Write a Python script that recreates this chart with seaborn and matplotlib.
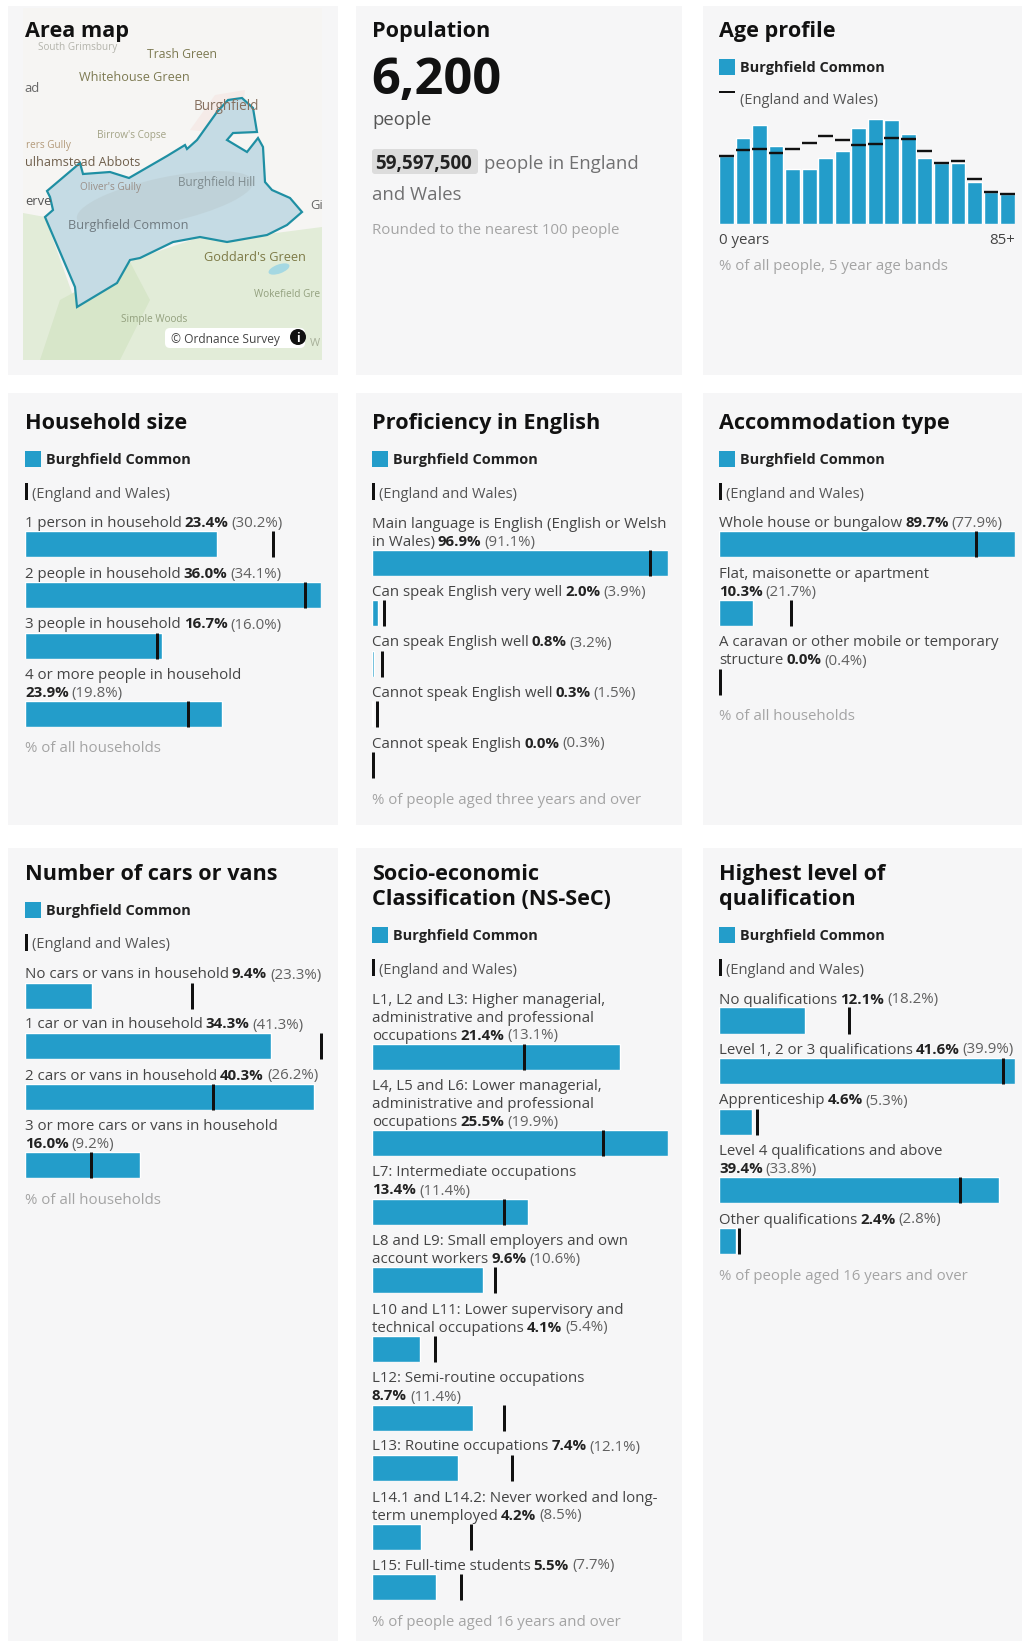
import matplotlib
matplotlib.use("Agg")
import matplotlib.pyplot as plt
from matplotlib.patches import Rectangle, Polygon, Ellipse, Circle, FancyBboxPatch
import seaborn as sns

W, H = 1022, 1641
BLUE = "#239dca"
PANEL = "#f6f6f7"
AREA = "Burghfield Common"
NATION = "(England and Wales)"

# Age profile, % of people in each 5 year band
age_bands = ["0-4", "5-9", "10-14", "15-19", "20-24", "25-29", "30-34", "35-39", "40-44",
             "45-49", "50-54", "55-59", "60-64", "65-69", "70-74", "75-79", "80-84", "85+"]
age_area = [5.4, 6.9, 7.9, 6.2, 4.4, 4.4, 5.3, 5.8, 7.7, 8.4, 8.3, 7.2, 5.3, 4.9, 4.9, 3.3, 2.5, 2.4]
age_nation = [5.4, 5.9, 6.0, 5.7, 6.0, 6.5, 7.0, 6.7, 6.3, 6.4, 6.9, 6.8, 5.8, 4.9, 5.0, 3.6, 2.5, 2.4]

household_labels = ["1 person in household", "2 people in household", "3 people in household",
                    "4 or more people in household\n"]
household_area = [23.4, 36.0, 16.7, 23.9]
household_nation = [30.2, 34.1, 16.0, 19.8]

english_labels = ["Main language is English (English or Welsh\nin Wales)", "Can speak English very well",
                  "Can speak English well", "Cannot speak English well", "Cannot speak English"]
english_area = [96.9, 2.0, 0.8, 0.3, 0.0]
english_nation = [91.1, 3.9, 3.2, 1.5, 0.3]

accommodation_labels = ["Whole house or bungalow", "Flat, maisonette or apartment\n",
                        "A caravan or other mobile or temporary\nstructure"]
accommodation_area = [89.7, 10.3, 0.0]
accommodation_nation = [77.9, 21.7, 0.4]

cars_labels = ["No cars or vans in household", "1 car or van in household", "2 cars or vans in household",
               "3 or more cars or vans in household\n"]
cars_area = [9.4, 34.3, 40.3, 16.0]
cars_nation = [23.3, 41.3, 26.2, 9.2]

nssec_labels = ["L1, L2 and L3: Higher managerial,\nadministrative and professional\noccupations",
                "L4, L5 and L6: Lower managerial,\nadministrative and professional\noccupations",
                "L7: Intermediate occupations\n",
                "L8 and L9: Small employers and own\naccount workers",
                "L10 and L11: Lower supervisory and\ntechnical occupations",
                "L12: Semi-routine occupations\n",
                "L13: Routine occupations",
                "L14.1 and L14.2: Never worked and long-\nterm unemployed",
                "L15: Full-time students"]
nssec_area = [21.4, 25.5, 13.4, 9.6, 4.1, 8.7, 7.4, 4.2, 5.5]
nssec_nation = [13.1, 19.9, 11.4, 10.6, 5.4, 11.4, 12.1, 8.5, 7.7]

qualification_labels = ["No qualifications", "Level 1, 2 or 3 qualifications", "Apprenticeship",
                        "Level 4 qualifications and above\n", "Other qualifications"]
qualification_area = [12.1, 41.6, 4.6, 39.4, 2.4]
qualification_nation = [18.2, 39.9, 5.3, 33.8, 2.8]

# Boundary of the area on the map, in page pixels
boundary_x = [47, 80, 83, 110, 129, 167, 185, 187, 197, 217, 228, 242, 253, 257, 233, 227, 247,
              258, 263, 265, 272, 290, 302, 287, 267, 227, 200, 173, 140, 130, 117, 77, 75, 45, 53, 50]
boundary_y = [191, 163, 174, 172, 178, 156, 145, 149, 140, 112, 100, 98, 108, 132, 133, 140, 152,
              138, 147, 182, 190, 198, 212, 225, 235, 242, 237, 242, 258, 260, 283, 307, 287, 217, 210, 197]

# Place names on the map: text, x, y, font size in px, colour, alignment
map_labels = [
    ("South Grimsbury", 78, 46, 10, "#b4b4ac", "center"),
    ("Trash Green", 182, 53, 12.3, "#7d7a52", "center"),
    ("Whitehouse Green", 134, 76, 12.6, "#7d7a52", "center"),
    ("ad", 24, 87, 13, "#666666", "left"),
    ("Burghfield", 226, 104, 13.5, "#86705f", "center"),
    ("Birrow's Copse", 132, 134, 10, "#a3a386", "center"),
    ("rers Gully", 48, 144, 10, "#b39a7a", "center"),
    ("ulhamstead Abbots", 25, 161, 12.6, "#6f5f4c", "left"),
    ("Oliver's Gully", 110, 186, 10, "#9a8f88", "center"),
    ("Burghfield Hill", 217, 181, 11.8, "#7e8b8e", "center"),
    ("erve", 25, 200, 13, "#555555", "left"),
    ("Burghfield Common", 128, 224, 12.8, "#6f7a80", "center"),
    ("Gi", 310, 204, 13, "#666666", "left"),
    ("Goddard's Green", 255, 256, 12.7, "#7d7a46", "center"),
    ("Wokefield Gre", 287, 293, 10, "#93a07e", "center"),
    ("Simple Woods", 154, 318, 10, "#93a07e", "center"),
    ("W", 315, 342, 11, "#a8b09a", "center"),
]

sns.set_theme(style="white")
plt.rcParams["font.family"] = ["Open Sans", "DejaVu Sans"]

fig = plt.figure(figsize=(W / 100, H / 100), dpi=100, facecolor="white")
page = fig.add_axes([0, 0, 1, 1])
page.set_xlim(0, W)
page.set_ylim(H, 0)
page.axis("off")
renderer = fig.canvas.get_renderer()


def pt(px):
    return px * 0.72


def write(x, y, s, px=15, color="#444444", weight="normal", ha="left", zorder=5):
    return page.text(x, y, s, fontsize=pt(px), color=color, fontweight=weight, ha=ha, va="center_baseline", zorder=zorder)


def write_run(x, y, pieces, px=15):
    # Lay out differently styled pieces of one line, one after another
    for s, color, weight in pieces:
        t = write(x, y, s, px, color, weight)
        x += t.get_window_extent(renderer).width + px * 0.2
    return x


# Card backgrounds
for x0, x1 in [(8, 338), (356, 682), (703, 1022)]:
    for y0, y1 in [(6, 375), (393, 825), (848, 1641)]:
        page.add_patch(Rectangle((x0, y0), x1 - x0, y1 - y0, facecolor=PANEL, edgecolor="none", zorder=0))

# Map base
page.add_patch(Rectangle((23, 8), 299, 352, facecolor="#f6f5f3", edgecolor="none", zorder=1))
page.add_patch(Polygon([(23, 213), (45, 217), (77, 307), (133, 260), (200, 237), (276, 233), (322, 227),
                        (322, 360), (23, 360)], facecolor="#e2ecd8", edgecolor="none", zorder=1))
page.add_patch(Polygon([(60, 300), (130, 262), (150, 300), (120, 360), (40, 360)], facecolor="#d7e6c9",
                       edgecolor="none", zorder=1))
page.add_patch(Polygon([(190, 130), (215, 95), (245, 90), (240, 135)], facecolor="#f5ebe8", edgecolor="none", zorder=1))
page.add_patch(Ellipse((279, 269), 22, 9, angle=-20, facecolor="#a5d8e2", edgecolor="none", zorder=1))
page.add_patch(Polygon(list(zip(boundary_x, boundary_y)), closed=True, facecolor="#c5dbe4",
                       edgecolor="#1f8fa3", linewidth=pt(2.2), zorder=2))
page.add_patch(Ellipse((165, 200), 180, 45, angle=-12, facecolor="#bccdd2", edgecolor="none", alpha=0.6, zorder=2))
for s, x, y, px, c, ha in map_labels:
    write(x, y, s, px, c, ha=ha, zorder=3)
page.add_patch(FancyBboxPatch((165, 328), 140, 20, boxstyle="round,pad=0,rounding_size=5", facecolor="white",
                              edgecolor="none", zorder=3))
write(171, 337.5, "© Ordnance Survey", 12, "#444444", zorder=4)
page.add_patch(Circle((298, 337), 8, facecolor="#111111", edgecolor="none", zorder=4))
write(298, 337, "i", 12, "white", "bold", ha="center", zorder=5)
write(25, 29, "Area map", 21.7, "#111111", "bold")

# Population card
write(372, 29, "Population", 21.7, "#111111", "bold")
write(371, 75, "6,200", 50.5, "#111111", "bold")
write(372, 118, "people", 18.5, "#555555")
page.add_patch(FancyBboxPatch((372, 149), 106, 25, boxstyle="round,pad=0,rounding_size=3", facecolor="#dcdcdc",
                              edgecolor="none", zorder=1))
write(375, 162, "59,597,500", 18.8, "#222222", "bold")
write(484, 162, "people in England", 18.5, "#707071")
write(372, 193, "and Wales", 18.5, "#707071")
write(372, 228, "Rounded to the nearest 100 people", 15, "#a4a4a4")


def card_header(x, title_lines, legend_y, vertical=True):
    y = legend_y - 37 - 25 * (len(title_lines) - 1)
    for line in title_lines:
        write(x, y, line, 21.7, "#111111", "bold")
        y += 25
    page.add_patch(Rectangle((x, legend_y - 7.5), 16, 16, facecolor=BLUE, edgecolor="none", zorder=3))
    write(x + 21, legend_y + 0.5, AREA, 14.5, "#222222", "bold")
    if vertical:
        page.add_patch(Rectangle((x, legend_y + 25), 3, 17, facecolor="#111111", edgecolor="none", zorder=3))
        write(x + 7, legend_y + 34, NATION, 14.6, "#555555")
    else:
        page.add_patch(Rectangle((x, legend_y + 25), 16, 2, facecolor="#111111", edgecolor="none", zorder=3))
        write(x + 21, legend_y + 33, NATION, 14.6, "#555555")


def bar_card(x, labels, area, nation, tops, footer, footer_y):
    scale_max = max(max(area), max(nation))
    for label, a, n, top in zip(labels, area, nation, tops):
        lines = label.split("\n")
        y = top - 9.5 - 18 * (len(lines) - 1)
        for line in lines[:-1]:
            write(x, y, line, 15)
            y += 18
        pieces = [(f"{a:.1f}%", "#222222", "bold"), (f"({n:.1f}%)", "#606060", "normal")]
        if lines[-1]:
            pieces.insert(0, (lines[-1], "#444444", "normal"))
        write_run(x, y, pieces, 15)

        ax = fig.add_axes([x / W, 1 - (top + 26) / H, 296 / W, 26 / H])
        sns.barplot(x=[a], y=[label], orient="h", color=BLUE, saturation=1, width=1, ax=ax)
        ax.vlines(n, -0.5, 0.5, color="#111111", linewidth=pt(3), clip_on=False, zorder=5)
        ax.set_xlim(0, scale_max)
        ax.set_ylim(0.5, -0.5)
        ax.axis("off")
    write(x, footer_y, footer, 15, "#a4a4a4")


# Age profile card
card_header(719, ["Age profile"], 66, vertical=False)
age_ax = fig.add_axes([719 / W, 1 - 223.5 / H, 296 / W, 105 / H])
sns.barplot(x=age_bands, y=age_area, color=BLUE, saturation=1, width=0.9, ax=age_ax)
for i, v in enumerate(age_nation):
    age_ax.hlines(v, i - 0.45, i + 0.45, color="#111111", linewidth=pt(2.4), zorder=5)
age_ax.set_xlim(-0.45, 17.45)
age_ax.set_ylim(0, 8.44)
age_ax.axis("off")
write(719, 238, "0 years", 15, "#444444")
write(1015, 238, "85+", 15, "#444444", ha="right")
write(719, 265, "% of all people, 5 year age bands", 15, "#a4a4a4")

# Middle row
card_header(25, ["Household size"], 458)
bar_card(25, household_labels, household_area, household_nation, [531, 582, 632.5, 701],
         "% of all households", 747)
card_header(372, ["Proficiency in English"], 458)
bar_card(372, english_labels, english_area, english_nation, [550, 600, 650.5, 701, 751.5],
         "% of people aged three years and over", 798)
card_header(719, ["Accommodation type"], 458)
bar_card(719, accommodation_labels, accommodation_area, accommodation_nation, [531, 600, 668.5],
         "% of all households", 715)

# Bottom row
card_header(25, ["Number of cars or vans"], 909)
bar_card(25, cars_labels, cars_area, cars_nation, [982.5, 1032.5, 1083.5, 1152],
         "% of all households", 1199)
card_header(372, ["Socio-economic", "Classification (NS-SeC)"], 934)
bar_card(372, nssec_labels, nssec_area, nssec_nation,
         [1043.5, 1130, 1198.5, 1267, 1335.5, 1404.5, 1454.5, 1523.5, 1573.5],
         "% of people aged 16 years and over", 1621)
card_header(719, ["Highest level of", "qualification"], 934)
bar_card(719, qualification_labels, qualification_area, qualification_nation,
         [1007.5, 1057.5, 1108.5, 1177, 1227.5],
         "% of people aged 16 years and over", 1274)

fig.savefig("out.png", dpi=100, facecolor="white")
